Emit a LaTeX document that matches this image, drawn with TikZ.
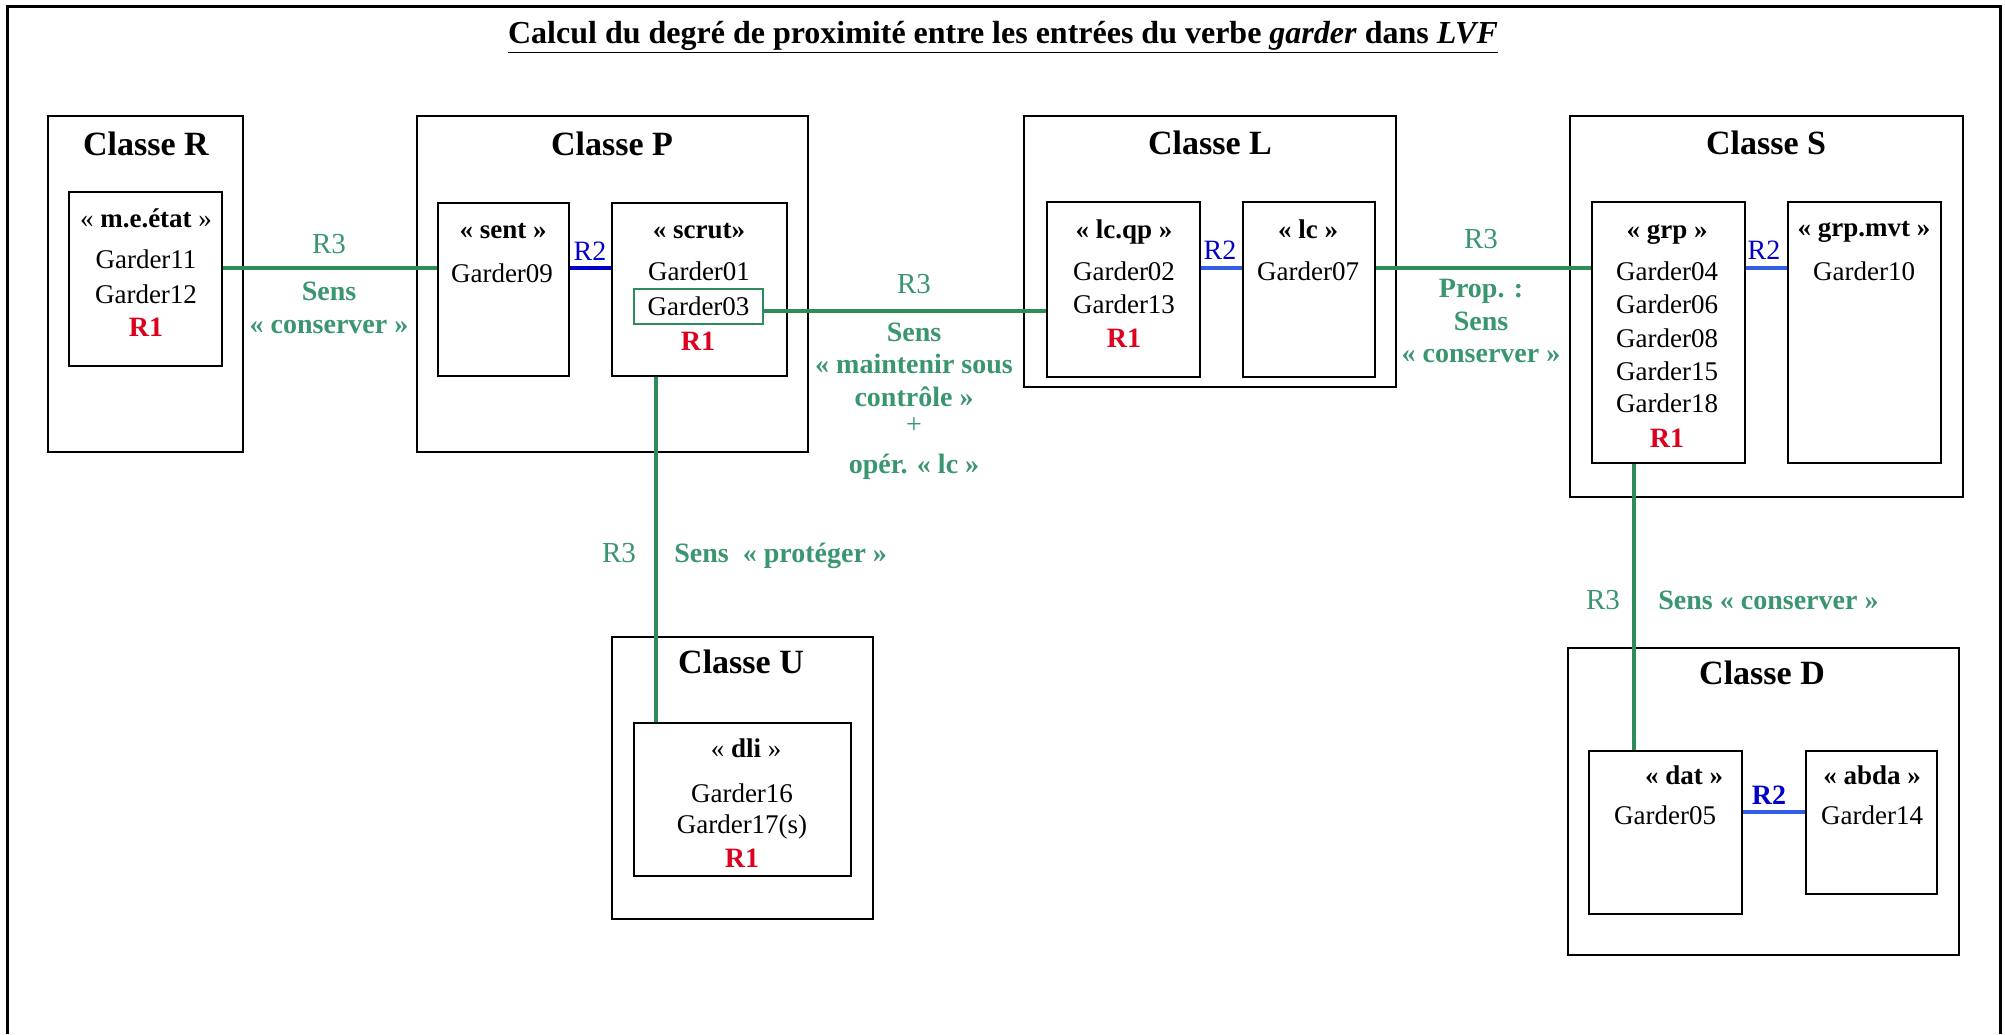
\documentclass[tikz,border=0pt]{standalone}
\usepackage{fontspec}
\setmainfont{Liberation Serif}
\usetikzlibrary{arrows}
\usetikzlibrary{shapes}

\definecolor{vert}{RGB}{46,139,90}
\definecolor{vertclair}{RGB}{58,150,110}
\definecolor{bleu}{RGB}{0,0,200}
\definecolor{bleuclair}{RGB}{50,95,230}
\definecolor{rouge}{RGB}{220,0,30}

\begin{document}
\begin{tikzpicture}[x=0.5pt,y=-0.5pt,
		boite/.style={draw, line width=1pt, inner sep=0pt},
		txt/.style={anchor=base, inner sep=0pt, font=\fontsize{13.5}{16}\selectfont},
		titre/.style={anchor=base, inner sep=0pt, font=\fontsize{17}{20}\selectfont\bfseries},
		etiq/.style={anchor=base, inner sep=0pt, text=vertclair, font=\fontsize{14}{16}\selectfont\bfseries},
		rone/.style={txt, text=rouge, font=\fontsize{14}{16}\selectfont\bfseries},
		rtwo/.style={txt, text=bleu, font=\fontsize{14}{16}\selectfont},
		lien/.style={vert, line width=2pt},
		lienb/.style={bleuclair, line width=2pt}]
		\useasboundingbox (0,0) rectangle (2005,1034);
		%% The frame (open at the bottom)
		\draw[line width=1.5pt] (7,1034) -- (7,6) -- (2000,6) -- (2000,1034);
		\node[anchor=base, inner sep=0pt, font=\fontsize{16}{18}\selectfont\bfseries] (title) at (1003,43)
			{\underline{Calcul du degré de proximité entre les entrées du verbe \textit{garder} dans \textit{LVF}}};

		%% Classes
		\node[boite, minimum width=97.5pt, minimum height=168pt] (clR) at (145.5,284) {};
		\node[boite, minimum width=195.5pt, minimum height=168pt] (clP) at (612.5,284) {};
		\node[boite, minimum width=186pt, minimum height=135.5pt] (clL) at (1210,251.5) {};
		\node[boite, minimum width=196.5pt, minimum height=190.5pt] (clS) at (1766.5,306.5) {};
		\node[boite, minimum width=130.5pt, minimum height=141pt] (clU) at (742.5,778) {};
		\node[boite, minimum width=195.5pt, minimum height=153.5pt] (clD) at (1763.5,801.5) {};
		\node[titre] (tR) at (146,155) {Classe R};
		\node[titre] (tP) at (612,155) {Classe P};
		\node[titre] (tL) at (1210,154) {Classe L};
		\node[titre] (tS) at (1766,154) {Classe S};
		\node[titre] (tU) at (741,673) {Classe U};
		\node[titre] (tD) at (1762,684) {Classe D};

		%% Sub-classes
		\node[boite, minimum width=76.5pt, minimum height=87pt] (mee) at (145.5,279) {};
		\node[boite, minimum width=65.5pt, minimum height=86.5pt] (sent) at (503.5,289.5) {};
		\node[boite, minimum width=87.5pt, minimum height=86.5pt] (scrut) at (699.5,289.5) {};
		\node[boite, minimum width=76.5pt, minimum height=87.5pt] (lcqp) at (1123.5,289.5) {};
		\node[boite, minimum width=66pt, minimum height=87.5pt] (lc) at (1309,289.5) {};
		\node[boite, minimum width=76.5pt, minimum height=130.5pt] (grp) at (1668.5,332.5) {};
		\node[boite, minimum width=76.5pt, minimum height=130.5pt] (grpmvt) at (1864.5,332.5) {};
		\node[boite, minimum width=108.5pt, minimum height=76.5pt] (dli) at (742.5,799.5) {};
		\node[boite, minimum width=76.5pt, minimum height=81.5pt] (dat) at (1665.5,832.5) {};
		\node[boite, minimum width=65.5pt, minimum height=71.5pt] (abda) at (1871.5,822.5) {};

		%% Entries
		\node[txt] (nmee) at (146,227) {« \textbf{m.e.état} »};
		\node[txt] (g11) at (146,268) {Garder11};
		\node[txt] (g12) at (146,303) {Garder12};
		\node[rone] (rR) at (146,336) {R1};

		\node[txt] (nsent) at (503,238) {\textbf{« sent »}};
		\node[txt] (g09) at (502,282) {Garder09};

		\node[txt] (nscrut) at (699,238) {\textbf{« scrut»}};
		\node[txt] (g01) at (699,280) {Garder01};
		\node[draw=vert, line width=0.6pt, inner sep=0pt, minimum width=64.5pt, minimum height=17.5pt,
			font=\fontsize{13.5}{16}\selectfont] (g03) at (698.5,306.5) {Garder03};
		\node[rone] (rP) at (698,350) {R1};

		\node[txt] (nlcqp) at (1124,238) {\textbf{« lc.qp »}};
		\node[txt] (g02) at (1124,280) {Garder02};
		\node[txt] (g13) at (1124,313) {Garder13};
		\node[rone] (rL) at (1124,347) {R1};

		\node[txt] (nlc) at (1308,238) {\textbf{« lc »}};
		\node[txt] (g07) at (1308,280) {Garder07};

		\node[txt] (ngrp) at (1667,238) {\textbf{« grp »}};
		\node[txt] (g04) at (1667,280) {Garder04};
		\node[txt] (g06) at (1667,313) {Garder06};
		\node[txt] (g08) at (1667,347) {Garder08};
		\node[txt] (g15) at (1667,380) {Garder15};
		\node[txt] (g18) at (1667,412) {Garder18};
		\node[rone] (rS) at (1667,447) {R1};

		\node[txt] (ngrpmvt) at (1864,236) {\textbf{« grp.mvt »}};
		\node[txt] (g10) at (1864,280) {Garder10};

		\node[txt] (ndli) at (746,757) {« \textbf{dli} »};
		\node[txt] (g16) at (742,802) {Garder16};
		\node[txt] (g17) at (742,833) {Garder17(s)};
		\node[rone] (rU) at (742,867) {R1};

		\node[txt] (ndat) at (1684,784) {\textbf{« dat »}};
		\node[txt] (g05) at (1665,824) {Garder05};
		\node[txt] (nabda) at (1872,784) {\textbf{« abda »}};
		\node[txt] (g14) at (1872,824) {Garder14};

		%% Levels of the links
		\path
			(0,268) coordinate (hhaut)
			(0,311) coordinate (hlc)
			(0,812) coordinate (hbas)
			(656,0) coordinate (vU)
			(1634,0) coordinate (vD);

		%% R3 links
		\draw[lien] (mee.east |- hhaut) -- (sent.west |- hhaut);
		\draw[lien] (g03.east |- hlc) -- (lcqp.west |- hlc);
		\draw[lien] (lc.east |- hhaut) -- (grp.west |- hhaut);
		\draw[lien] (scrut.south -| vU) -- (dli.north -| vU);
		\draw[lien] (grp.south -| vD) -- (dat.north -| vD);

		%% R2 links
		\draw[bleu, line width=2pt] (sent.east |- hhaut) -- (scrut.west |- hhaut);
		\draw[lienb] (lcqp.east |- hhaut) -- (lc.west |- hhaut);
		\draw[lienb] (grp.east |- hhaut) -- (grpmvt.west |- hhaut);
		\draw[lienb] (dat.east |- hbas) -- (abda.west |- hbas);
		\node[rtwo] (r2P) at (590,260) {R2};
		\node[rtwo] (r2L) at (1220,259) {R2};
		\node[rtwo] (r2S) at (1764,259) {R2};
		\node[rtwo, font=\fontsize{14}{16}\selectfont\bfseries] (r2D) at (1769,804) {R2};

		%% Labels of the R3 links
		\node[etiq, font=\fontsize{14.5}{16}\selectfont] (lRP) at (329,253) {R3};
		\node[etiq] (lRPa) at (329,300) {Sens};
		\node[etiq] (lRPb) at (329,333) {« conserver »};

		\node[etiq, font=\fontsize{14.5}{16}\selectfont] (lPL) at (914,293) {R3};
		\node[etiq] (lPLa) at (914,341) {Sens};
		\node[etiq] (lPLb) at (914,373) {« maintenir sous};
		\node[etiq] (lPLc) at (914,406) {contrôle »};
		\node[etiq, font=\fontsize{14}{16}\selectfont] (lPLd) at (914,433) {+};
		\node[etiq] (lPLe) at (914,473) {opér. « lc »};

		\node[etiq, font=\fontsize{14.5}{16}\selectfont] (lLS) at (1481,248) {R3};
		\node[etiq] (lLSa) at (1481,297) {Prop. :};
		\node[etiq] (lLSb) at (1481,330) {Sens};
		\node[etiq] (lLSc) at (1481,362) {« conserver »};

		\node[etiq, font=\fontsize{14.5}{16}\selectfont] (lPU) at (619,562) {R3};
		\node[etiq, anchor=base west] (lPUa) at (674,562) {Sens\ \ « protéger »};

		\node[etiq, font=\fontsize{14.5}{16}\selectfont] (lSD) at (1603,609) {R3};
		\node[etiq, anchor=base west] (lSDa) at (1658,609) {Sens « conserver »};
\end{tikzpicture}
\end{document}
